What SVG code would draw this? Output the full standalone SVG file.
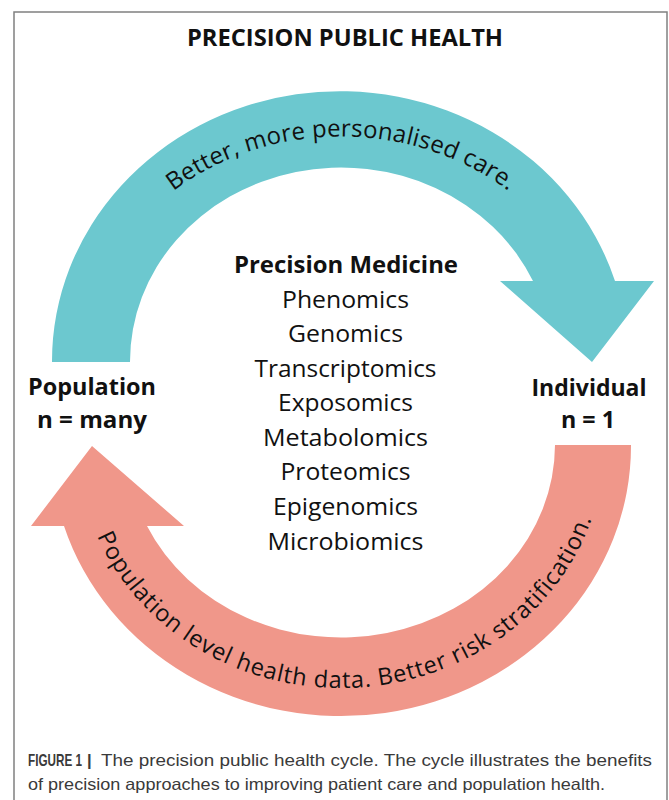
<svg xmlns="http://www.w3.org/2000/svg" xmlns:xlink="http://www.w3.org/1999/xlink" width="669" height="800" viewBox="0 0 669 800">
  <style>
    .t { font-family: "Open Sans", "Noto Sans", "Liberation Sans", sans-serif; fill: #111; }
    .b { font-weight: bold; }
    .lbl { font-size: 24px; text-anchor: middle; }
    .item { font-size: 23.2px; }
    .arc { font-family: "Open Sans", "Noto Sans", "Liberation Sans", sans-serif; fill: #111; }
    .cap { font-family: "Liberation Sans", Arial, sans-serif; font-size: 16.5px; fill: #3a3a3a; }
  </style>
  <defs>
    <path id="topTextPath" d="M 84,362 A 257,225.5 0 0 1 598,362"/>
    <path id="botTextPath" d="M 78,445 A 263,243 0 0 0 604,445"/>
  </defs>
  <rect x="0" y="0" width="669" height="800" fill="#ffffff"/>
  <rect id="frame" x="14" y="12" width="653" height="820" fill="none" stroke="#808080" stroke-width="1.5"/>

  <g id="title">
    <text class="t b" x="345" y="46" font-size="23.6" text-anchor="middle" textLength="316" lengthAdjust="spacingAndGlyphs">PRECISION PUBLIC HEALTH</text>
  </g>

  <g id="connectors">
    <g id="arrow-top">
      <path d="M 52,362 A 288,270 0 0 1 615,281 L 654,281 L 592,362 L 500,281 L 533,281 A 211,194 0 0 0 130,362 Z" fill="#6CC8CF"/>
      <text class="arc" font-size="24" letter-spacing="0.2"><textPath xlink:href="#topTextPath" href="#topTextPath" startOffset="50%" text-anchor="middle">Better, more personalised care.</textPath></text>
    </g>
    <g id="arrow-bottom">
      <path d="M 631,445 A 290,270 0 0 1 64,526 L 31,526 L 92,446 L 184,526 L 147,526 A 214,193 0 0 0 555,445 Z" fill="#F0978A"/>
      <text class="arc" font-size="23.5" letter-spacing="0.8"><textPath xlink:href="#botTextPath" href="#botTextPath" startOffset="407" text-anchor="middle">Population level health data. Better risk stratification.</textPath></text>
    </g>
  </g>

  <g id="population">
    <text class="t b lbl" x="92" y="395" textLength="128" lengthAdjust="spacingAndGlyphs">Population</text>
    <text class="t b lbl" x="92" y="428" textLength="110" lengthAdjust="spacingAndGlyphs">n = many</text>
  </g>

  <g id="individual">
    <text class="t b lbl" x="589" y="396" textLength="115" lengthAdjust="spacingAndGlyphs">Individual</text>
    <text class="t b lbl" x="588" y="428" textLength="54" lengthAdjust="spacingAndGlyphs">n = 1</text>
  </g>

  <g id="precision-medicine">
    <text class="t b lbl" x="346" y="273" font-size="22.6" textLength="224" lengthAdjust="spacingAndGlyphs">Precision Medicine</text>
    <text class="t lbl item" x="345.5" y="307.5" textLength="127" lengthAdjust="spacingAndGlyphs">Phenomics</text>
    <text class="t lbl item" x="345.5" y="342" textLength="115" lengthAdjust="spacingAndGlyphs">Genomics</text>
    <text class="t lbl item" x="345.5" y="376.5" textLength="182" lengthAdjust="spacingAndGlyphs">Transcriptomics</text>
    <text class="t lbl item" x="345.5" y="411" textLength="135" lengthAdjust="spacingAndGlyphs">Exposomics</text>
    <text class="t lbl item" x="345.5" y="445.5" textLength="165" lengthAdjust="spacingAndGlyphs">Metabolomics</text>
    <text class="t lbl item" x="345.5" y="480" textLength="130" lengthAdjust="spacingAndGlyphs">Proteomics</text>
    <text class="t lbl item" x="345.5" y="514.5" textLength="145" lengthAdjust="spacingAndGlyphs">Epigenomics</text>
    <text class="t lbl item" x="345.5" y="549.5" textLength="156" lengthAdjust="spacingAndGlyphs">Microbiomics</text>
  </g>

  <g id="caption">
    <text class="cap" transform="translate(28,766) scale(0.71,1)" font-weight="bold" fill="#222">FIGURE 1</text>
    <text class="cap" x="87" y="766" font-weight="bold" fill="#222">|</text>
    <text class="cap" x="101" y="766" textLength="551" lengthAdjust="spacingAndGlyphs">The precision public health cycle. The cycle illustrates the benefits</text>
    <text class="cap" x="28" y="790" textLength="577" lengthAdjust="spacingAndGlyphs">of precision approaches to improving patient care and population health.</text>
  </g>
</svg>
